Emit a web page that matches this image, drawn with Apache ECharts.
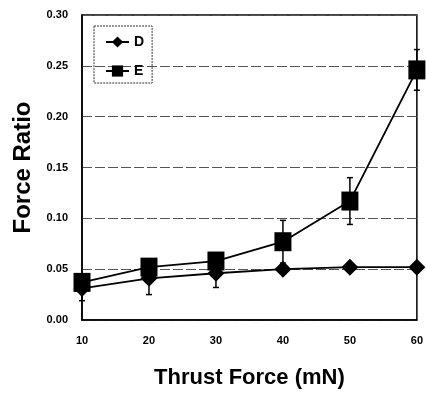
<!DOCTYPE html>
<html>
<head>
<meta charset="utf-8">
<script src="https://cdn.jsdelivr.net/npm/echarts@6/dist/echarts.min.js"></script>
<style>html,body{margin:0;padding:0;background:#fff;}#c{width:426px;height:394px;}</style>
</head>
<body>
<div id="c"></div>
<script>
const thrust = [10, 20, 30, 40, 50, 60];
const seriesD = [0.031, 0.041, 0.046, 0.050, 0.052, 0.052];
const errD = [0.012, 0.016, 0.014, 0.004, 0.003, 0.003];
const seriesE = [0.037, 0.052, 0.058, 0.077, 0.117, 0.246];
const errE = [0.005, 0.006, 0.006, 0.021, 0.023, 0.020];
const yTicks = ['0.00', '0.05', '0.10', '0.15', '0.20', '0.25', '0.30'];

const font = 'Liberation Sans, Arial, sans-serif';
function errData(vals, errs) {
  return thrust.map((x, i) => [x, vals[i] - errs[i], vals[i] + errs[i]]);
}
function errRender(params, api) {
  const x = api.value(0);
  const lo = api.coord([x, api.value(1)]);
  const hi = api.coord([x, api.value(2)]);
  const w = 3;
  const style = { stroke: '#000', lineWidth: 1.5 };
  return {
    type: 'group',
    children: [
      { type: 'line', shape: { x1: lo[0], y1: lo[1], x2: hi[0], y2: hi[1] }, style },
      { type: 'line', shape: { x1: lo[0] - w, y1: lo[1], x2: lo[0] + w, y2: lo[1] }, style },
      { type: 'line', shape: { x1: hi[0] - w, y1: hi[1], x2: hi[0] + w, y2: hi[1] }, style }
    ]
  };
}
const chart = echarts.init(document.getElementById('c'), null, { renderer: 'canvas' });
chart.setOption({
  animation: false,
  backgroundColor: '#fff',
  grid: { left: 82, right: 4, top: 15, bottom: 73, show: true, borderColor: '#000', borderWidth: 1.5, containLabel: false },
  legend: {
    orient: 'vertical', left: 94, top: 26,
    padding: [9, 8, 5, 11], itemGap: 15, itemWidth: 23, itemHeight: 14, itemTextGap: 5,
    borderColor: '#333', borderWidth: 1, borderType: [2, 1],
    textStyle: { fontFamily: font, fontWeight: 'bold', fontSize: 14, color: '#000' },
    data: ['D', 'E']
  },
  xAxis: {
    type: 'value', min: 10, max: 60, interval: 10,
    name: 'Thrust Force (mN)', nameLocation: 'middle', nameGap: 47,
    nameTextStyle: { fontFamily: font, fontWeight: 'bold', fontSize: 22, color: '#000' },
    axisLine: { show: true, lineStyle: { color: '#000', width: 1.5 } },
    axisTick: { show: false },
    splitLine: { show: false },
    axisLabel: { margin: 15, fontFamily: font, fontWeight: 'bold', fontSize: 11, color: '#000' }
  },
  yAxis: {
    type: 'value', min: 0, max: 0.3, interval: 0.05,
    name: 'Force Ratio', nameLocation: 'middle', nameGap: 47,
    nameTextStyle: { fontFamily: font, fontWeight: 'bold', fontSize: 24, color: '#000' },
    axisLine: { show: true, lineStyle: { color: '#000', width: 1.5 } },
    axisTick: { show: false },
    splitLine: { show: true, lineStyle: { color: '#555', width: 1, type: [10, 3] } },
    axisLabel: { margin: 14, fontFamily: font, fontWeight: 'bold', fontSize: 11, color: '#000',
      formatter: (v) => yTicks[Math.round(v / 0.05)] }
  },
  series: [
    { name: 'errD', type: 'custom', renderItem: errRender, data: errData(seriesD, errD), encode: { x: 0, y: [1, 2] }, z: 1, silent: true },
    { name: 'errE', type: 'custom', renderItem: errRender, data: errData(seriesE, errE), encode: { x: 0, y: [1, 2] }, z: 1, silent: true },
    { name: 'D', type: 'line', data: thrust.map((x, i) => [x, seriesD[i]]),
      symbol: 'diamond', symbolSize: [17, 17], itemStyle: { color: '#000' },
      lineStyle: { color: '#000', width: 1.8 }, z: 3 },
    { name: 'E', type: 'line', data: thrust.map((x, i) => [x, seriesE[i]]),
      symbol: 'rect', symbolSize: [17, 19], itemStyle: { color: '#000' },
      lineStyle: { color: '#000', width: 1.8 }, z: 3 }
  ]
});
</script>
</body>
</html>
